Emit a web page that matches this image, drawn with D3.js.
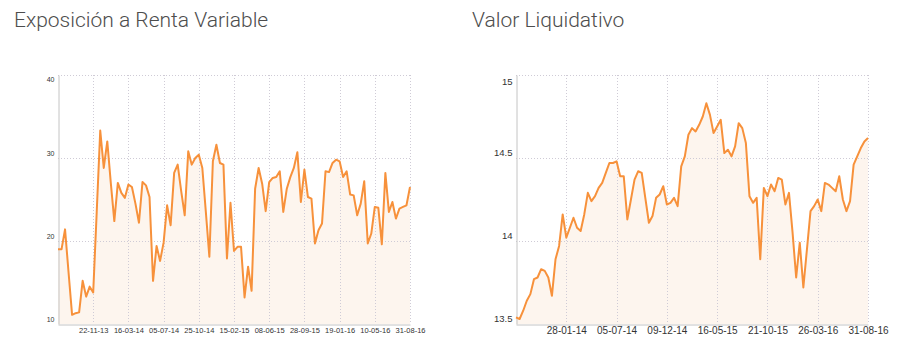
<!DOCTYPE html>
<html><head><meta charset="utf-8">
<script src="https://cdn.jsdelivr.net/npm/d3@7"></script>
<style>body{margin:0;background:#fff}svg{display:block}</style>
</head><body><svg id="c" width="900" height="361"></svg>
<script>
const leftTitle = "Exposición a Renta Variable";
const rightTitle = "Valor Liquidativo";
const leftValues = [19.0,19.0,21.4,16.2,11.1,11.3,11.4,15.2,13.3,14.5,13.8,23.5,33.3,28.8,32.0,27.0,22.4,27.0,25.8,25.2,26.8,26.5,24.5,22.2,27.1,26.7,25.3,15.2,19.4,17.6,19.8,24.3,21.9,28.2,29.2,26.0,23.1,30.8,29.2,30.0,30.4,28.8,23.5,18.1,29.6,31.6,29.4,29.2,17.9,24.6,18.8,19.3,19.3,13.2,16.9,14.0,26.3,28.8,26.9,23.6,27.1,27.6,27.7,28.4,23.5,26.3,27.7,28.8,30.7,24.7,28.6,25.3,25.1,19.7,21.3,22.1,28.4,28.3,29.4,29.8,29.6,27.7,28.4,25.6,25.5,23.1,24.5,27.2,19.7,20.9,24.1,24.0,19.6,28.2,23.5,24.7,22.7,23.9,24.1,24.3,26.5];
const rightValues = [13.54,13.53,13.58,13.64,13.68,13.77,13.78,13.83,13.82,13.78,13.67,13.89,13.97,14.16,14.02,14.08,14.14,14.08,14.06,14.16,14.29,14.24,14.27,14.32,14.35,14.41,14.47,14.47,14.48,14.39,14.39,14.13,14.25,14.37,14.42,14.41,14.26,14.11,14.15,14.26,14.28,14.33,14.22,14.23,14.26,14.21,14.45,14.51,14.64,14.68,14.66,14.70,14.75,14.83,14.76,14.65,14.69,14.73,14.53,14.55,14.51,14.57,14.71,14.68,14.59,14.27,14.23,14.26,13.89,14.32,14.27,14.34,14.30,14.38,14.37,14.22,14.29,14.05,13.78,13.99,13.72,13.95,14.18,14.21,14.25,14.18,14.35,14.34,14.32,14.30,14.39,14.25,14.18,14.24,14.46,14.51,14.56,14.60,14.62];
const leftXLabels = ["22-11-13","16-03-14","05-07-14","25-10-14","15-02-15","08-06-15","28-09-15","19-01-16","10-05-16","31-08-16"];
const rightXLabels = ["28-01-14","05-07-14","09-12-14","16-05-15","21-10-15","26-03-16","31-08-16"];
const leftYTicks = [10,20,30,40];
const rightYTicks = [13.5,14,14.5,15];

const svg = d3.select("#c");

function panel(cfg){
  const g = svg.append("g");
  const n = cfg.values.length;
  const x = d3.scaleLinear().domain([0,n-1]).range([cfg.x0,cfg.x1]);
  const y = d3.scaleLinear().domain(cfg.yDomain).range([324,75]);
  const k = cfg.xLabels.length;
  const xTickVals = cfg.xLabels.map((d,i)=>(i+1)*(n-1)/k);

  const area = d3.area().x((d,i)=>x(i)).y0(y(cfg.yDomain[0])).y1(d=>y(d));
  g.append("path").datum(cfg.values).attr("d",area).attr("fill","#fdf5ee");

  const grid = g.append("g").attr("stroke","#cfcbd6").attr("stroke-width",1).attr("stroke-dasharray","1,2");
  grid.selectAll("line.v").data(xTickVals).enter().append("line")
    .attr("x1",d=>Math.round(x(d))+0.5).attr("x2",d=>Math.round(x(d))+0.5)
    .attr("y1",y(cfg.yDomain[1])).attr("y2",y(cfg.yDomain[0]));
  grid.selectAll("line.h").data(cfg.yTicks.slice(1)).enter().append("line")
    .attr("x1",cfg.x0).attr("x2",cfg.x1)
    .attr("y1",d=>Math.round(y(d))+0.5).attr("y2",d=>Math.round(y(d))+0.5);

  const xAxis = d3.axisBottom(x).tickValues(xTickVals).tickFormat((d,i)=>cfg.xLabels[i]).tickSize(0).tickPadding(cfg.xPad);
  const gx = g.append("g").attr("transform",`translate(0,${y(cfg.yDomain[0])+0.5})`).call(xAxis);
  gx.select(".domain").attr("stroke","#c4c4c4");
  gx.selectAll("text").attr("fill","#333").attr("font-family","'Liberation Sans', Arial, sans-serif").attr("font-size",cfg.xFont);

  const yAxis = d3.axisLeft(y).tickValues(cfg.yTicks).tickSize(0).tickPadding(cfg.yPad).tickFormat(d3.format(""));
  const gy = g.append("g").attr("transform",`translate(${cfg.x0+0.5},0)`).call(yAxis);
  gy.select(".domain").attr("stroke","#c4c4c4");
  gy.selectAll("text").attr("fill","#333").attr("font-family","'Liberation Sans', Arial, sans-serif").attr("font-size",cfg.yFont)
    .attr("dy",(d,i)=> i===cfg.yTicks.length-1 ? cfg.topDy : cfg.otherDy);

  const line = d3.line().x((d,i)=>x(i)).y(d=>y(d));
  g.append("path").datum(cfg.values).attr("d",line).attr("fill","none")
    .attr("stroke","#f7913b").attr("stroke-width",2).attr("stroke-linejoin","round");

  svg.append("text").attr("x",cfg.titleX).attr("y",27).text(cfg.title)
    .attr("font-family","Roboto, sans-serif").attr("font-weight",300).attr("font-size",21).attr("fill","#4d4d4d");
}

panel({values:leftValues, x0:58, x1:410, yDomain:[10,40], yTicks:leftYTicks, xLabels:leftXLabels,
  xFont:7.5, yFont:7, xPad:3, yPad:4, topDy:"0.9em", otherDy:"-0.35em", title:leftTitle, titleX:14});
panel({values:rightValues, x0:516, x1:868, yDomain:[13.5,15], yTicks:rightYTicks, xLabels:rightXLabels,
  xFont:10, yFont:9.5, xPad:2, yPad:4, topDy:"1.0em", otherDy:"-0.3em", title:rightTitle, titleX:472});
</script></body></html>
